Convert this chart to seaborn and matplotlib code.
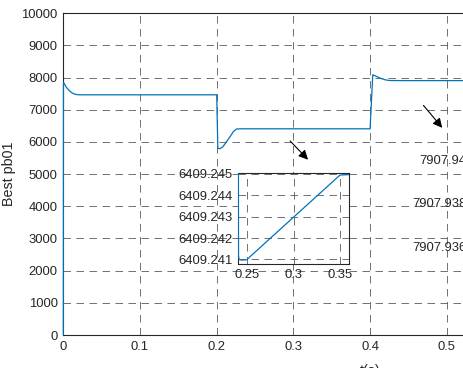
import numpy as np
import pandas as pd
import matplotlib
matplotlib.use("Agg")
import matplotlib.pyplot as plt
import seaborn as sns
from matplotlib.ticker import FormatStrFormatter, FixedLocator

# values
t = [0.0, 0.0002, 0.004, 0.008, 0.012, 0.016, 0.02, 0.03, 0.2,
     0.2015, 0.204, 0.208, 0.212, 0.217, 0.222, 0.226, 0.232, 0.2395,
     0.2408, 0.2414, 0.244, 0.249, 0.25, 0.35, 0.36, 0.4,
     0.4035, 0.408, 0.414, 0.42, 0.426, 0.45, 0.6, 0.8]
best_pb01 = [0.0, 7857, 7700, 7590, 7515, 7480, 7466, 7466, 7466,
             5800, 5790, 5850, 5980, 6150, 6330, 6405, 6409.8, 6409.30,
             6409.2412, 6409.24100, 6409.24097, 6409.24098, 6409.24100, 6409.24495, 6409.24497, 6409.24497,
             8090, 8040, 7975, 7930, 7910, 7907.941, 7907.937, 7907.937]

x_ticks = [0, 0.1, 0.2, 0.3, 0.4, 0.5, 0.6, 0.7, 0.8]
y_ticks = list(range(0, 10001, 1000))
zoom1_xticks = [0.25, 0.3, 0.35]
zoom1_yticks = [6409.241, 6409.242, 6409.243, 6409.244, 6409.245]
zoom2_yticks = [7907.936, 7907.938, 7907.94]
zoom2_ylabels = ['7907.936', '7907.938', '7907.94']

df = pd.DataFrame({'t': t, 'v': best_pb01})

sns.set_theme(style='white')
plt.rcParams['font.family'] = ['Liberation Sans', 'DejaVu Sans']
plt.rcParams['axes.edgecolor'] = '#262626'
plt.rcParams['xtick.color'] = '#262626'
plt.rcParams['ytick.color'] = '#262626'

W, H = 464, 368
fig = plt.figure(figsize=(W / 100, H / 100), dpi=100)
line_color = '#0072BD'
grid_kw = dict(color='#5a5a5a', linestyle=(0, (9, 6.6)), linewidth=0.6)


def px_axes(left, top, right, bottom):
    return fig.add_axes([left / W, 1 - bottom / H, (right - left) / W, (bottom - top) / H])


def style(ax):
    ax.grid(True, **grid_kw)
    ax.set_axisbelow(True)
    ax.tick_params(direction='in', length=3.5, width=0.6, labelsize=9.4, pad=4,
                   labelcolor='#262626')
    for s in ax.spines.values():
        s.set_linewidth(0.8)
        s.set_color('#262626')


# main axes (right part falls outside the cropped picture)
ax = px_axes(63.3, 13.3, 676.9, 335)
sns.lineplot(data=df, x='t', y='v', ax=ax, color=line_color, linewidth=0.9,
             estimator=None, sort=False, zorder=3)
ax.lines[0].set_clip_on(False)
ax.set_xlim(0, 0.8)
ax.set_ylim(0, 10000)
ax.set_xticks(x_ticks)
ax.set_yticks(y_ticks)
ax.xaxis.set_major_formatter(FormatStrFormatter('%g'))
style(ax)
ax.set_xlabel('t(s)', fontsize=10.3, color='#262626', labelpad=8)
ax.set_ylabel('Best pb01', fontsize=10.3, color='#262626', labelpad=4)

# zoom inset 1
ins = px_axes(237.7, 172.7, 349.3, 263.7)
sns.lineplot(data=df, x='t', y='v', ax=ins, color=line_color, linewidth=0.9,
             estimator=None, sort=False, zorder=3)
ins.set_xlim(0.2400, 0.36)
ins.set_ylim(6409.24080, 6409.24506)
ins.xaxis.set_major_locator(FixedLocator(zoom1_xticks))
ins.yaxis.set_major_locator(FixedLocator(zoom1_yticks))
ins.xaxis.set_major_formatter(FormatStrFormatter('%g'))
ins.yaxis.set_major_formatter(FormatStrFormatter('%.3f'))
ins.set_xlabel('')
ins.set_ylabel('')
style(ins)

# zoom inset 2 (only its tick labels are inside the crop)
ins2 = px_axes(472, 149, 584, 257)
sns.lineplot(data=df, x='t', y='v', ax=ins2, color=line_color, linewidth=0.9,
             estimator=None, sort=False)
ins2.set_xlim(0.44, 0.56)
ins2.set_ylim(7907.9355, 7907.9405)
ins2.set_yticks(zoom2_yticks)
ins2.set_yticklabels(zoom2_ylabels)
ins2.set_xlabel('')
ins2.set_ylabel('')
style(ins2)

arrow_kw = dict(arrowstyle='-|>', color='black', lw=0.8, mutation_scale=14)
ax.annotate('', xy=(0.3216, 5387), xytext=(0.2933, 6093), arrowprops=arrow_kw)
ax.annotate('', xy=(0.4964, 6373), xytext=(0.4673, 7203), arrowprops=arrow_kw)

fig.savefig('out.png', dpi=100)
